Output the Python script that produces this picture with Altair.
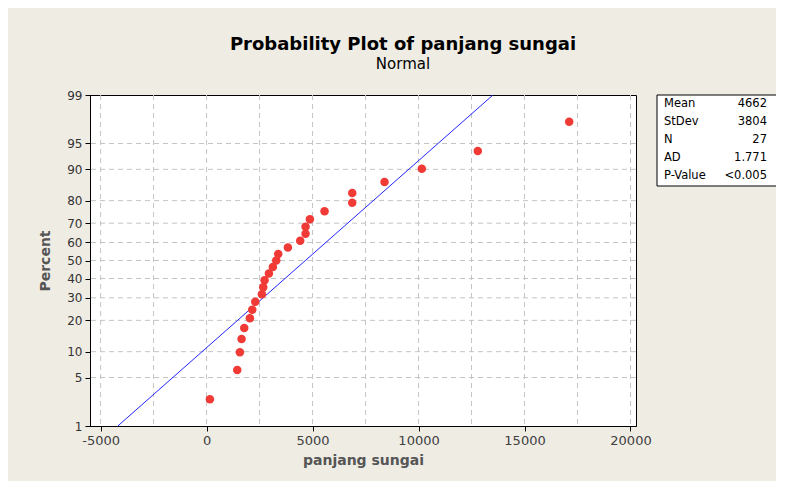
import altair as alt
import pandas as pd
from statistics import NormalDist

# ---- data ----
lengths = [156, 1447, 1572, 1651, 1777, 2044, 2155, 2297, 2609, 2673, 2736, 2940, 3127,
           3287, 3381, 3836, 4418, 4670, 4670, 4874, 5566, 6872, 6872, 8396, 10156,
           12797, 17108]
percents = [2.55, 6.20, 9.85, 13.50, 17.15, 20.80, 24.45, 28.10, 31.75, 35.40, 39.05,
            42.70, 46.35, 50.00, 53.65, 57.30, 60.95, 64.60, 68.25, 71.90, 75.55, 79.20,
            82.85, 86.50, 90.15, 93.80, 97.45]
fit_mean = 4662
fit_sd = 3804
fit_percent_ends = [1, 99]
y_tick_percents = [1, 5, 10, 20, 30, 40, 50, 60, 70, 80, 90, 95, 99]
y_grid_percents = [5, 10, 20, 30, 40, 50, 60, 70, 80, 90, 95]
x_tick_values = [-5000, 0, 5000, 10000, 15000, 20000]
x_grid_values = [-5000, -2500, 0, 2500, 5000, 7500, 10000, 12500, 15000, 17500, 20000]
stat_labels = ["Mean", "StDev", "N", "AD", "P-Value"]
stat_values = ["4662", "3804", "27", "1.771", "<0.005"]

FONT = "DejaVu Sans"
nd = NormalDist()
z_ticks = [nd.inv_cdf(p / 100) for p in y_tick_percents]
z_grid = [nd.inv_cdf(p / 100) for p in y_grid_percents]
z_lo, z_hi = z_ticks[0], z_ticks[-1]

W, H = 546, 331

pts = pd.DataFrame({"length": lengths, "percent": percents})
fit = pd.DataFrame({"percent": fit_percent_ends})
xgrid = pd.DataFrame({"g": x_grid_values})
ygrid = pd.DataFrame({"gz": z_grid})
one = pd.DataFrame({"a": [0]})

xscale = alt.Scale(domain=[-5500, 20260], nice=False, zero=False)
yscale = alt.Scale(domain=[z_lo, z_hi], nice=False, zero=False)

xaxis = alt.Axis(values=x_tick_values, labelExpr="'' + datum.value", grid=False,
                 labelOverlap=False, tickSize=5, tickColor="black",
                 domainColor="black", labelFont=FONT, labelFontSize=13,
                 labelColor="#404040", labelPadding=3, title="panjang sungai",
                 titleFont=FONT, titleFontSize=14, titleFontWeight="bold",
                 titleColor="#555555", titlePadding=6)
yaxis = alt.Axis(values=z_ticks,
                 labelExpr="format(cumulativeNormal(datum.value)*100, '.0f')",
                 labelOverlap=False, grid=False,
                 tickSize=5, tickColor="black", domainColor="black",
                 labelFont=FONT, labelFontSize=12, labelColor="#333333",
                 labelPadding=3, title="Percent", titleFont=FONT, titleFontSize=14,
                 titleFontWeight="bold", titleColor="#555555", titlePadding=14)

xgridlines = alt.Chart(xgrid).mark_rule(color="#c4c4c4", strokeDash=[5, 4],
                                        strokeWidth=1).encode(
    x=alt.X("g:Q", scale=xscale, axis=xaxis))

ygridlines = alt.Chart(ygrid).mark_rule(color="#c4c4c4", strokeDash=[5, 4],
                                        strokeWidth=1).encode(
    y=alt.Y("gz:Q", scale=yscale, axis=yaxis))

points = alt.Chart(pts).transform_calculate(
    z="quantileNormal(datum.percent/100)"
).mark_point(filled=True, size=72, color="#f03a36", opacity=1).encode(
    x=alt.X("length:Q", scale=xscale, axis=xaxis),
    y=alt.Y("z:Q", scale=yscale, axis=yaxis),
)

line = alt.Chart(fit).transform_calculate(
    z="quantileNormal(datum.percent/100)",
    x=f"{fit_mean} + {fit_sd}*quantileNormal(datum.percent/100)",
).mark_line(color="#2424ff", strokeWidth=1).encode(
    x=alt.X("x:Q", scale=xscale, axis=xaxis),
    y=alt.Y("z:Q", scale=yscale, axis=yaxis),
)

box = alt.Chart(one).mark_rect(fill="white", stroke="black", strokeWidth=1).encode(
    x=alt.value(567), x2=alt.value(688), y=alt.value(0), y2=alt.value(91))

box_labels = alt.Chart(one).mark_text(
    align="left", baseline="top", lineBreak="\n", lineHeight=18,
    font=FONT, fontSize=11.5, color="black").encode(
    x=alt.value(574), y=alt.value(3), text=alt.value("\n".join(stat_labels)))

box_values = alt.Chart(one).mark_text(
    align="right", baseline="top", lineBreak="\n", lineHeight=18,
    font=FONT, fontSize=11.5, color="black").encode(
    x=alt.value(677), y=alt.value(3), text=alt.value("\n".join(stat_values)))

chart = alt.layer(xgridlines, ygridlines, line, points, box, box_labels,
                  box_values).properties(
    width=W, height=H,
    autosize=alt.AutoSizeParams(type="none"),
    padding={"left": 82, "top": 87, "right": 140, "bottom": 55},
    background="#efece4",
    title=alt.TitleParams(
        text="Probability Plot of panjang sungai", subtitle="Normal",
        anchor="middle", dx=40, offset=17, font=FONT, fontSize=18,
        fontWeight="bold", color="black", subtitleFont=FONT,
        subtitleFontSize=15, subtitleColor="black", subtitlePadding=3),
).configure_view(stroke="black", strokeWidth=1, fill="white"
).configure_axis(labelOverlap=False, labelBound=False)

chart.save("out.html", embed_options={"renderer": "svg", "actions": False})
